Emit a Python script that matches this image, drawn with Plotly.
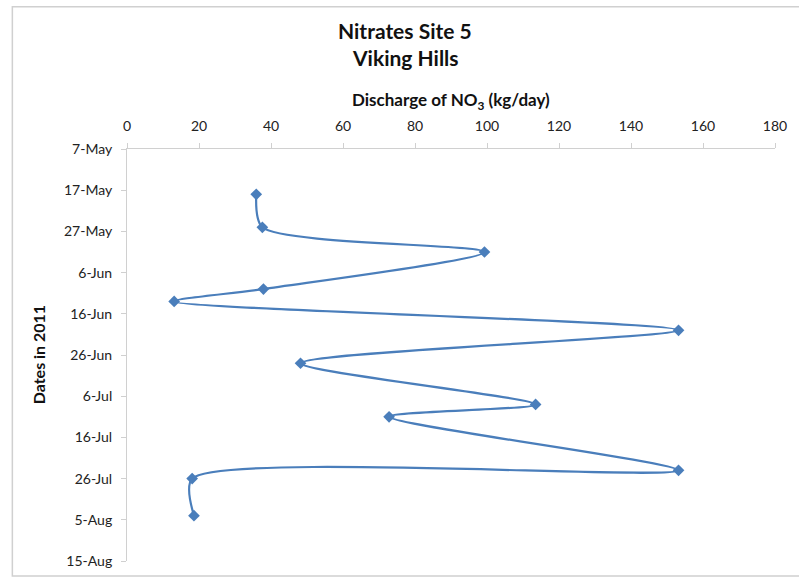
import plotly.graph_objects as go

# Sampling dates and nitrate discharge (kg/day) at Site 5
dates = ["2011-05-18", "2011-05-26", "2011-06-01", "2011-06-10", "2011-06-13",
         "2011-06-20", "2011-06-28", "2011-07-08", "2011-07-11", "2011-07-24",
         "2011-07-26", "2011-08-04"]
discharge = [35.9, 37.6, 99.3, 37.9, 13.1, 153.2, 48.2, 113.5, 72.8, 153.2, 18.1, 18.6]

x_ticks = [0, 20, 40, 60, 80, 100, 120, 140, 160, 180]

FONT = "Lato, 'Open Sans', sans-serif"
BLUE = "#4a7ebb"
AXIS_GREY = "#d0d0d0"

# plot area in pixels (used to place the free-floating texts)
L, R, T, B = 127, 22, 149, 18
W, H = 799, 581
PW, PH = W - L - R, H - T - B


def px(x):
    return (x - L) / PW


def py(y):
    return (H - B - y) / PH


fig = go.Figure()
fig.add_trace(go.Scatter(
    x=discharge, y=dates, mode="lines+markers",
    line=dict(color=BLUE, width=2.2, shape="spline", smoothing=0.75),
    marker=dict(symbol="diamond", size=9, color=BLUE),
    showlegend=False,
))

texts = [
    dict(text="<b>Nitrates Site 5</b>", x=px(406), y=py(30), size=21),
    dict(text="<b>Viking Hills</b>", x=px(406), y=py(57), size=21),
    dict(text="<b>Discharge of NO<sub>3</sub> (kg/day)</b>", x=px(452), y=py(101), size=17),
]
annotations = [
    dict(text=t["text"], x=t["x"], y=t["y"], xref="paper", yref="paper",
         xanchor="center", yanchor="middle", showarrow=False,
         font=dict(family=FONT, size=t["size"], color="#111"))
    for t in texts
]
annotations.append(dict(
    text="<b>Dates in 2011</b>", x=px(38), y=py(356), xref="paper", yref="paper",
    xanchor="center", yanchor="middle", showarrow=False, textangle=-90,
    font=dict(family=FONT, size=16, color="#111")))

fig.update_layout(
    width=W, height=H,
    margin=dict(l=L, r=R, t=T, b=B),
    paper_bgcolor="white", plot_bgcolor="white",
    font=dict(family=FONT, size=14, color="#222"),
    xaxis=dict(
        side="top", range=[0, 180], tickvals=x_ticks,
        showgrid=False, zeroline=False,
        showline=True, linecolor=AXIS_GREY, linewidth=1,
        ticks="outside", ticklen=5, tickcolor=AXIS_GREY,
        ticklabelstandoff=6,
        tickfont=dict(size=14, color="#222"),
    ),
    yaxis=dict(
        type="date", range=["2011-08-15", "2011-05-07"],
        tick0="2011-05-07", dtick=10 * 86400000, tickformat="%-d-%b",
        showgrid=False, zeroline=False,
        showline=True, linecolor=AXIS_GREY, linewidth=1,
        ticks="outside", ticklen=5, tickcolor=AXIS_GREY,
        ticklabelstandoff=6,
        tickfont=dict(size=14, color="#222"),
    ),
    annotations=annotations,
    shapes=[dict(type="rect", xref="paper", yref="paper",
                 x0=px(12), x1=px(805), y0=py(578), y1=py(6),
                 line=dict(color="#d0d0d0", width=1.5), layer="below")],
)

fig.write_html("out.html")
